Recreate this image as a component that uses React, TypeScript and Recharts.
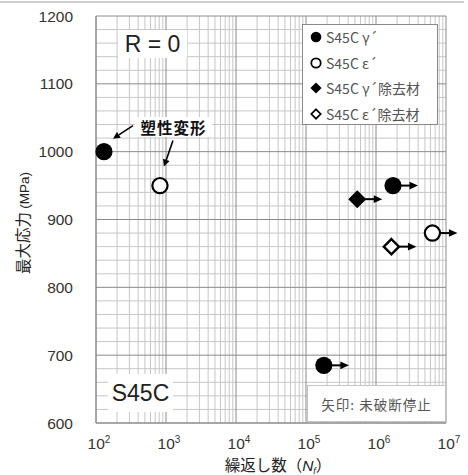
import React from "react";
import { ScatterChart, Scatter, XAxis, YAxis, ReferenceLine, ReferenceDot } from "recharts";

const W = 468;
const H = 475;

// ---- data ----
const seriesNames = ["S45C γ´", "S45C ε´", "S45C γ´除去材", "S45C ε´除去材"];
const gammaN = [130, 1750000, 180000];
const gammaS = [1000, 950, 685];
const gammaArrow = [false, true, true];
const epsN = [820, 6400000];
const epsS = [950, 880];
const epsArrow = [false, true];
const gammaRemN = [540000];
const gammaRemS = [930];
const gammaRemArrow = [true];
const epsRemN = [1660000];
const epsRemS = [860];
const epsRemArrow = [true];

const xTicks = [1e2, 1e3, 1e4, 1e5, 1e6, 1e7];
const xTickExp = ["2", "3", "4", "5", "6", "7"];
const yTicks = [600, 700, 800, 900, 1000, 1100, 1200];
const minorMult = [2, 3, 4, 5, 6, 7, 8, 9];
const yMinor = [620, 640, 660, 680, 720, 740, 760, 780, 820, 840, 860, 880, 920, 940, 960, 980, 1020, 1040, 1060, 1080, 1120, 1140, 1160, 1180];
const xMinor = xTicks.slice(0, 5).flatMap((d) => minorMult.map((m) => d * m));

const build = (n: number[], s: number[], a: boolean[]) => n.map((v, i) => ({ n: v, s: s[i], arrow: a[i] }));
const gammaData = build(gammaN, gammaS, gammaArrow);
const epsData = build(epsN, epsS, epsArrow);
const gammaRemData = build(gammaRemN, gammaRemS, gammaRemArrow);
const epsRemData = build(epsRemN, epsRemS, epsRemArrow);

type Kind = "fc" | "oc" | "fd" | "od";
const kinds: Kind[] = ["fc", "oc", "fd", "od"];

function markerEl(kind: Kind, cx: number, cy: number, scale: number) {
  if (kind === "fc") return <circle cx={cx} cy={cy} r={8.6 * scale} fill="#000" />;
  if (kind === "oc")
    return <circle cx={cx} cy={cy} r={7.6 * scale} fill="#fff" stroke="#000" strokeWidth={2.2 * Math.max(scale, 0.8)} />;
  if (kind === "fd") {
    const h = 9 * scale;
    return <polygon points={`${cx},${cy - h} ${cx + h},${cy} ${cx},${cy + h} ${cx - h},${cy}`} fill="#000" />;
  }
  const h = 7.6 * scale;
  return (
    <polygon
      points={`${cx},${cy - h} ${cx + h},${cy} ${cx},${cy + h} ${cx - h},${cy}`}
      fill="#fff"
      stroke="#000"
      strokeWidth={2.4 * Math.max(scale, 0.7)}
      strokeLinejoin="miter"
    />
  );
}

const makeShape = (kind: Kind) => (props: any) => {
  const { cx, cy, payload } = props;
  if (cx == null || cy == null) return <g />;
  return (
    <g>
      {payload && payload.arrow ? (
        <g>
          <line x1={cx + 8} y1={cy} x2={cx + 18} y2={cy} stroke="#000" strokeWidth={2} />
          <polygon points={`${cx + 16.5},${cy - 3.8} ${cx + 25},${cy} ${cx + 16.5},${cy + 3.8}`} fill="#000" />
        </g>
      ) : null}
      {markerEl(kind, cx, cy, 1)}
    </g>
  );
};

function arrowPath(x1: number, y1: number, x2: number, y2: number) {
  const dx = x2 - x1;
  const dy = y2 - y1;
  const len = Math.sqrt(dx * dx + dy * dy);
  const ux = dx / len;
  const uy = dy / len;
  const hl = 7;
  const hw = 3.5;
  const bx = x2 - ux * hl;
  const by = y2 - uy * hl;
  return (
    <g>
      <line x1={x1} y1={y1} x2={bx} y2={by} stroke="#000" strokeWidth={1.6} />
      <polygon points={`${x2},${y2} ${bx - uy * hw},${by + ux * hw} ${bx + uy * hw},${by - ux * hw}`} fill="#000" />
    </g>
  );
}

const XTick = (props: any) => {
  const { x, payload, index } = props;
  const i = xTicks.indexOf(payload.value);
  return (
    <text x={x + 3} y={449} textAnchor="middle" fontFamily="Liberation Sans, Arial, sans-serif" fontSize={15.5} fill="#333">
      <tspan>10</tspan>
      <tspan dy={-6} fontSize={10}>{xTickExp[i >= 0 ? i : index]}</tspan>
    </text>
  );
};

const YTick = (props: any) => {
  const { y, payload } = props;
  return (
    <text x={73} y={y + 5.5} textAnchor="end" fontFamily="Liberation Sans, Arial, sans-serif" fontSize={15.5} fill="#333">
      {payload.value}
    </text>
  );
};

const jp = "'Noto Sans CJK JP', 'Liberation Sans', sans-serif";
const lat = "'Liberation Sans', Arial, sans-serif";

export default function App() {
  const datasets = [gammaData, epsData, gammaRemData, epsRemData];
  return (
    <div style={{ position: "absolute", left: 0, top: 0, width: W, height: H, background: "#fff" }}>
      <div style={{ position: "absolute", left: 0, top: 1, width: 464, height: 2, background: "#cfcfcf" }} />
      <ScatterChart width={W} height={H} margin={{ top: 16, right: 22, left: 0, bottom: 0 }}>
        <XAxis
          dataKey="n"
          type="number"
          scale="log"
          domain={[100, 1e7]}
          ticks={xTicks}
          height={52}
          tick={<XTick />}
          tickLine={false}
          axisLine={{ stroke: "#8a8a8a" }}
          interval={0}
        />
        <YAxis
          dataKey="s"
          type="number"
          domain={[600, 1200]}
          ticks={yTicks}
          width={96}
          tick={<YTick />}
          tickLine={false}
          axisLine={{ stroke: "#8a8a8a" }}
          interval={0}
        />
        {xMinor.map((v) => (
          <ReferenceLine key={"xm" + v} x={v} stroke="#c6c6c6" strokeWidth={1} />
        ))}
        {yMinor.map((v) => (
          <ReferenceLine key={"ym" + v} y={v} stroke="#c6c6c6" strokeWidth={1} />
        ))}
        {xTicks.map((v) => (
          <ReferenceLine key={"xM" + v} x={v} stroke="#8a8a8a" strokeWidth={1} />
        ))}
        {yTicks.map((v) => (
          <ReferenceLine key={"yM" + v} y={v} stroke="#8a8a8a" strokeWidth={1} />
        ))}
        {datasets.map((d, i) => (
          <Scatter
            key={seriesNames[i]}
            name={seriesNames[i]}
            data={d}
            isAnimationActive={false}
            shape={makeShape(kinds[i])}
          />
        ))}
        <ReferenceDot
          x={gammaN[0]}
          y={gammaS[0]}
          r={0}
          shape={(p: any) => arrowPath(p.cx + 29, p.cy - 26, p.cx + 9, p.cy - 13)}
        />
        <ReferenceDot
          x={epsN[0]}
          y={epsS[0]}
          r={0}
          shape={(p: any) => arrowPath(p.cx + 13, p.cy - 45, p.cx + 4, p.cy - 19)}
        />
      </ScatterChart>

      {/* text boxes */}
      <div style={{ position: "absolute", left: 118, top: 30, width: 69, height: 28, background: "#fff", display: "flex", alignItems: "center", justifyContent: "center", fontFamily: lat, fontSize: 23, color: "#222" }}>
        R = 0
      </div>
      <div style={{ position: "absolute", left: 108, top: 374, width: 65, height: 38, background: "#fff", display: "flex", alignItems: "center", justifyContent: "center", fontFamily: lat, fontSize: 23, color: "#222" }}>
        S45C
      </div>
      <div style={{ position: "absolute", left: 135, top: 117, width: 77, height: 20, background: "#fff", display: "flex", alignItems: "center", justifyContent: "center", fontFamily: jp, fontSize: 15.5, fontWeight: 700, color: "#111", letterSpacing: 1 }}>
        塑性変形
      </div>
      <div style={{ position: "absolute", left: 307, top: 385, width: 139, height: 37, background: "#fff", border: "1px solid #c4c4c4", boxSizing: "border-box", display: "flex", alignItems: "center", justifyContent: "center", fontFamily: jp, fontSize: 13.5, color: "#555", letterSpacing: 1 }}>
        矢印: 未破断停止
      </div>

      {/* legend */}
      <div style={{ position: "absolute", left: 302, top: 24, width: 136, height: 101, background: "#fff", border: "1px solid #8a8a8a", boxSizing: "border-box" }}>
        {seriesNames.map((nm, i) => (
          <div key={nm} style={{ position: "absolute", left: 0, top: 1 + i * 25.5, height: 22, width: 134, display: "flex", alignItems: "center" }}>
            <svg width={22} height={22} style={{ flex: "none" }}>
              {markerEl(kinds[i], 13, 11, 0.62)}
            </svg>
            <span style={{ fontFamily: jp, fontSize: 14, color: "#555", marginLeft: 1, whiteSpace: "nowrap" }}>{nm}</span>
          </div>
        ))}
      </div>

      {/* axis titles */}
      <svg width={W} height={H} style={{ position: "absolute", left: 0, top: 0, pointerEvents: "none" }}>
        <text x={278} y={471} textAnchor="middle" fontFamily={jp} fontSize={15.5} fill="#222">
          繰返し数（<tspan fontFamily={lat} fontStyle="italic">N</tspan>
          <tspan fontFamily={lat} fontStyle="italic" fontSize={9} dy={3}>f</tspan>
          <tspan dy={-3}>）</tspan>
        </text>
        <text
          x={29}
          y={223}
          textAnchor="middle"
          transform="rotate(-90 29 223)"
          fontFamily={jp}
          fontSize={15.5}
          fill="#222"
        >
          最大応力 <tspan fontFamily={lat} fontSize={13.5}>(MPa)</tspan>
        </text>
      </svg>
    </div>
  );
}
